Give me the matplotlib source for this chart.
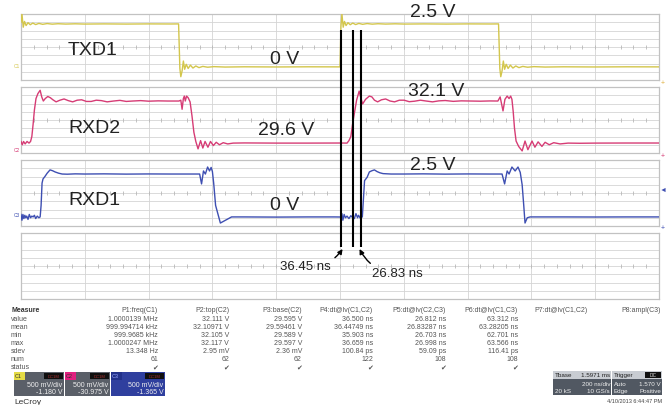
import matplotlib
matplotlib.use("Agg")
import matplotlib.pyplot as plt
from matplotlib.patches import Rectangle
import numpy as np

plt.rcParams['font.family'] = ['Liberation Sans', 'DejaVu Sans']

# traces: time in ns (200 ns/div), level in divisions (-4..4)
txd1_t = [0, 3, 7, 11, 16, 22, 29, 37, 46, 56, 68, 82, 98, 116, 140, 170, 200, 260, 330, 400, 470, 494,
          498, 501, 505, 509, 513, 518, 524, 531, 539, 548, 558, 570, 585, 605, 640, 700, 800, 900, 1000,
          1003, 1006, 1010, 1014, 1019, 1025, 1032, 1040, 1049, 1059, 1071, 1085, 1101, 1119, 1143, 1173,
          1203, 1263, 1333, 1403, 1473, 1497,
          1501, 1504, 1508, 1512, 1516, 1521, 1527, 1534, 1542, 1551, 1561, 1573, 1588, 1608, 1643, 1700,
          1800, 1900, 2000]
txd1_v = [3.0, 4.0, 2.4, 3.1, 2.6, 2.95, 2.7, 2.9, 2.72, 2.86, 2.75, 2.84, 2.77, 2.82, 2.78, 2.81, 2.78, 2.8,
          2.78, 2.8, 2.79, 2.8,
          -2.6, -3.6, -2.9, -1.7, -2.7, -2.1, -2.6, -2.2, -2.55, -2.3, -2.5, -2.35, -2.45, -2.38, -2.43, -2.4,
          -2.42, -2.4, -2.41,
          2.5, 4.0, 2.4, 3.1, 2.6, 2.95, 2.7, 2.9, 2.72, 2.86, 2.75, 2.84, 2.77, 2.82, 2.78, 2.81, 2.78, 2.8,
          2.78, 2.8, 2.79, 2.8,
          -2.6, -3.6, -2.9, -1.7, -2.7, -2.1, -2.6, -2.2, -2.55, -2.3, -2.5, -2.35, -2.45, -2.38, -2.43, -2.4,
          -2.42, -2.4, -2.41]

rxd2_t = [0, 4, 8, 13, 19, 25, 30, 34, 38, 42, 47, 53, 60, 65, 70, 76, 84, 92, 100, 110, 122, 135, 148, 162,
          176, 190, 205, 220, 236, 252, 270, 290, 310, 330, 350, 375, 400, 430, 460, 495, 501, 505, 509,
          512, 515, 519, 524, 530, 536, 542, 548, 555, 563, 570, 577, 586, 594, 603, 612, 622, 634, 648,
          665, 700, 800, 900, 1000,
          1022, 1028, 1034, 1039, 1045, 1052, 1060, 1066, 1071, 1080, 1092, 1100, 1108, 1118, 1130, 1143,
          1157, 1171, 1186, 1201, 1217, 1234, 1252, 1270, 1290, 1310, 1330, 1355, 1380, 1410, 1440, 1470,
          1495, 1502, 1511, 1517, 1524, 1530, 1535, 1539, 1543, 1547, 1552, 1560, 1571, 1580, 1589, 1602,
          1611, 1621, 1633, 1643, 1656, 1670, 1690, 1715, 1752, 1800, 1900, 2000]
rxd2_v = [-2.6, -3.0, -2.6, -2.9, -2.6, -2.8, -2.6, -2.0, -0.5, 1.2, 2.6, 3.2, 3.6, 2.8, 2.3, 2.6, 2.85, 2.7,
          2.45, 2.2, 2.4, 2.55, 2.35, 2.2, 2.4, 2.45, 2.25, 2.25, 2.4, 2.35, 2.2, 2.3, 2.38, 2.25, 2.3, 2.35,
          2.28, 2.32, 2.3, 2.3, 2.4, 1.3, 2.6, 2.9, 2.3, 2.9, 2.7, 2.2, 0.5, -1.5, -2.6, -3.5, -2.5, -3.4,
          -2.6, -3.3, -2.6, -3.1, -2.7, -3.0, -2.75, -2.9, -2.8, -2.78, -2.8, -2.8, -2.79,
          -2.8, -2.5, -2.0, -0.6, 0.8, 2.4, 3.5, 2.6, 1.95, 2.5, 2.9, 2.8, 2.4, 2.2, 2.45, 2.55, 2.3, 2.2,
          2.4, 2.4, 2.22, 2.28, 2.4, 2.3, 2.2, 2.32, 2.36, 2.26, 2.32, 2.3, 2.28, 2.31,
          2.3, 2.8, 1.1, 2.5, 2.9, 2.6, 2.9, 2.5, 1.0, -1.0, -2.55, -3.2, -3.75, -2.55, -3.6, -2.55, -3.3,
          -2.65, -3.2, -2.7, -3.0, -2.75, -2.9, -2.8, -2.82, -2.8, -2.79, -2.79]

rxd1_t = [0, 3, 6, 9, 12, 15, 18, 22, 26, 30, 34, 38, 42, 46, 51, 56, 60, 63, 66, 69, 75, 82, 91, 99, 107, 118,
          129, 145, 170, 200, 260, 330, 400, 470, 520, 560, 566, 572, 578, 585, 591, 596, 600, 604, 610, 625,
          660, 700, 800, 900, 980, 1003, 1006, 1009, 1013, 1017, 1022, 1028, 1034, 1040, 1045, 1050, 1055,
          1058, 1062, 1065, 1068, 1070, 1077, 1085, 1092, 1100, 1108, 1116, 1125, 1135, 1160, 1200, 1260,
          1330, 1400, 1470, 1500, 1508, 1516, 1524, 1530, 1539, 1549, 1558, 1565, 1571, 1576, 1580, 1587,
          1596, 1620, 1700, 1800, 1900, 2000]
rxd1_v = [-2.6, -3.3, -2.6, -3.1, -2.7, -3.0, -2.8, -3.2, -2.6, -3.0, -2.8, -2.9, -2.7, -3.1, -2.8, -3.0,
          -2.9, -1.5, 1.2, 1.7, 2.0, 2.4, 2.8, 2.7, 2.55, 2.4, 2.3, 2.28, 2.32, 2.3, 2.32, 2.29, 2.31, 2.3,
          2.3, 2.3, 1.1, 2.67, 2.3, 3.15, 2.67, 3.1, 2.6, 1.2, -1.5, -3.64, -2.9, -2.9, -2.92, -2.9, -2.9,
          -2.91, -2.5, -3.3, -2.6, -3.0, -2.8, -3.1, -2.75, -3.0, -3.1, -2.5, -3.0, -2.7, -2.95, -3.1,
          -2.9, -2.9, 1.5, 1.9, 2.55, 2.7, 2.8, 2.6, 2.45, 2.35, 2.3, 2.3, 2.32, 2.29, 2.31, 2.3, 2.3,
          2.3, 1.1, 2.67, 2.3, 3.15, 2.67, 3.15, 2.5, 1.0, -1.5, -3.64, -3.0, -2.9, -2.9, -2.9, -2.91,
          -2.9, -2.9]

trace_names = ['TXD1', 'RXD2', 'RXD1']
trace_colors = ['#d3c64c', '#d63c75', '#3e4fb2']
low_labels = ['0 V', '29.6 V', '0 V']
high_labels = ['2.5 V', '32.1 V', '2.5 V']
# label positions (ns, div)
name_pos = [(147, -0.25), (147, -0.85), (147, -0.75)]
low_pos = [(780, -1.45), (743, -1.1), (780, -1.35)]
high_pos = [(1220, 4.25), (1213, 3.55), (1220, 3.5)]

cursor_t = [1003.0, 1039.45, 1066.28]
cursor_labels = ['36.45 ns', '26.83 ns']

meas_rows = ['value', 'mean', 'min', 'max', 'sdev', 'num', 'status']
meas_heads = ['P1:freq(C1)', 'P2:top(C2)', 'P3:base(C2)', 'P4:dt@lv(C1,C2)', 'P5:dt@lv(C2,C3)',
              'P6:dt@lv(C1,C3)', 'P7:dt@lv(C1,C2)', 'P8:ampl(C3)']
chk = '\u2714'
meas_vals = [
    ['1.0000139 MHz', '999.994714 kHz', '999.9685 kHz', '1.0000247 MHz', '13.348 Hz', '61', chk],
    ['32.111 V', '32.10971 V', '32.105 V', '32.117 V', '2.95 mV', '62', chk],
    ['29.595 V', '29.59461 V', '29.589 V', '29.597 V', '2.36 mV', '62', chk],
    ['36.500 ns', '36.44749 ns', '35.903 ns', '36.659 ns', '100.84 ps', '122', chk],
    ['26.812 ns', '26.83287 ns', '26.703 ns', '26.998 ns', '59.09 ps', '108', chk],
    ['63.312 ns', '63.28205 ns', '62.701 ns', '63.566 ns', '116.41 ps', '108', chk],
    [], [],
]
ch_tags = ['C1', 'C2', 'C3']
ch_scale = ['500 mV/div', '500 mV/div', '500 mV/div']
ch_offset = ['-1.180 V', '-30.975 V', '-1.365 V']

W, H = 670, 406
fig = plt.figure(figsize=(6.7, 4.06), dpi=100)
fig.patch.set_facecolor('white')

series = [(txd1_t, txd1_v), (rxd2_t, rxd2_v), (rxd1_t, rxd1_v)]
panels = []
for i in range(4):
    top = 15 + 73 * i
    ax = fig.add_axes([21 / W, 1 - (top + 66) / H, 638 / W, 66 / H])
    ax.set_xlim(0, 2000)
    ax.set_ylim(-4, 4)
    ax.set_xticks([])
    ax.set_yticks([])
    for s in ax.spines.values():
        s.set_color('#c2c2c2')
        s.set_linewidth(0.9)
    for d in range(1, 10):
        ax.axvline(d * 200, color='#d4d4d4', lw=0.6, zorder=1)
    for k in range(-3, 4):
        ax.axhline(k, color='#d4d4d4', lw=0.6, zorder=1)
    ax.vlines(np.arange(40, 2000, 40), -0.25, 0.25, color='#b8b8b8', lw=0.6, zorder=1)
    if i < 3:
        t, v = series[i]
        ax.plot(t, v, color=trace_colors[i], lw=1.0, zorder=3)
        kw = dict(fontsize=14, color='#222222', va='center', zorder=5, clip_on=False)
        ax.text(*name_pos[i], trace_names[i], ha='left', **kw)
        ax.text(*low_pos[i], low_labels[i], ha='left', **kw)
        ax.text(*high_pos[i], high_labels[i], ha='left', **kw)
    panels.append(ax)

# cursors, same time axis but pixel rows
cx = fig.add_axes([21 / W, 0, 638 / W, 1])
cx.set_xlim(0, 2000)
cx.set_ylim(H, 0)
cx.axis('off')
cx.patch.set_alpha(0)
cx.vlines(cursor_t, 31, 248, color='black', lw=1.5, zorder=6)
cx.annotate(cursor_labels[0], xy=(cursor_t[0] + 5, 250), xytext=(972, 267), fontsize=9.5,
            ha='right', va='center', color='#222222',
            arrowprops=dict(arrowstyle='-|>', color='black', lw=1.0, mutation_scale=7,
                            connectionstyle='arc3,rad=0.3', shrinkA=1, shrinkB=0))
cx.annotate(cursor_labels[1], xy=(cursor_t[2] - 5, 250), xytext=(1100, 274), fontsize=9.5,
            ha='left', va='center', color='#222222',
            arrowprops=dict(arrowstyle='-|>', color='black', lw=1.0, mutation_scale=7,
                            connectionstyle='arc3,rad=-0.3', shrinkA=1, shrinkB=0))

# overlay in pixel units for table and info boxes
ov = fig.add_axes([0, 0, 1, 1])
ov.set_xlim(0, W)
ov.set_ylim(H, 0)
ov.axis('off')
ov.patch.set_alpha(0)

# channel markers at the edges
ov.text(17, 66, 'C1', fontsize=3.5, color=trace_colors[0], ha='center', va='center')
ov.text(17, 151, 'C2', fontsize=3.5, color=trace_colors[1], ha='center', va='center')
ov.text(17, 216, 'C3', fontsize=3.5, color=trace_colors[2], ha='center', va='center')
ov.text(663, 83, '+', fontsize=5, color='#e0b040', ha='center', va='center')
ov.text(663, 157, '+', fontsize=5, color=trace_colors[1], ha='center', va='center')
ov.text(663, 190, '\u25c4', fontsize=5, color=trace_colors[2], ha='center', va='center')
ov.text(663, 229, '+', fontsize=5, color=trace_colors[2], ha='center', va='center')

# measurement table
col_x = [158, 229, 302, 373, 446, 518, 588, 661]
row_y0, row_dy = 311, 8.1
tc = '#555555'
ov.text(11, row_y0, 'Measure', fontsize=5, fontweight='bold', color='#333333', va='center')
for r, name in enumerate(meas_rows):
    ov.text(11, row_y0 + row_dy * (r + 1), name, fontsize=5, color=tc, va='center')
for c, head in enumerate(meas_heads):
    ov.text(col_x[c], row_y0, head, fontsize=5, color=tc, va='center', ha='right')
    for r, val in enumerate(meas_vals[c]):
        ov.text(col_x[c], row_y0 + row_dy * (r + 1), val, fontsize=5, color=tc, va='center', ha='right')

# channel boxes
box_x = [(14, 64), (65, 110), (111, 165)]
box_bg = ['#5a5f68', '#5a5f68', '#2f3f9e']
tag_bg = ['#e5dc46', '#e0207f', '#22318a']
tag_fg = ['#333333', '#333333', '#9aa8ff']
by0, by1 = 373, 397
for i, (x0, x1) in enumerate(box_x):
    ov.add_patch(Rectangle((x0, by0), x1 - x0, by1 - by0, color=box_bg[i], lw=0))
    ov.add_patch(Rectangle((x0, by0), 11, 8, color=tag_bg[i], lw=0))
    ov.text(x0 + 1, by0 + 4, ch_tags[i], fontsize=4, color=tag_fg[i], va='center', ha='left')
    ov.add_patch(Rectangle((x1 - 20, by0 + 1), 19, 6, color='#101010', lw=0))
    ov.text(x1 - 10.5, by0 + 4, 'DC1M', fontsize=3, color='#aa3030', va='center', ha='center')
    ov.text(x1 - 1.5, by0 + 13, ch_scale[i], fontsize=5, color='#f0f0f0', va='center', ha='right')
    ov.text(x1 - 1.5, by0 + 20, ch_offset[i], fontsize=5, color='#f0f0f0', va='center', ha='right')
ov.text(14, 403, 'LeCroy', fontsize=6, color='#333333', va='center', ha='left')

# timebase and trigger boxes
ov.add_patch(Rectangle((553, 372), 58, 24, color='#515862', lw=0))
ov.add_patch(Rectangle((553, 372), 58, 8, color='#c8ccd2', lw=0))
ov.text(555, 376, 'Tbase', fontsize=4.5, color='#222222', va='center', ha='left')
ov.text(610, 376, '1.5971 ms', fontsize=4.5, color='#222222', va='center', ha='right')
ov.text(610, 385, '200 ns/div', fontsize=4.5, color='#f0f0f0', va='center', ha='right')
ov.text(555, 392, '20 kS', fontsize=4.5, color='#f0f0f0', va='center', ha='left')
ov.text(610, 392, '10 GS/s', fontsize=4.5, color='#f0f0f0', va='center', ha='right')
ov.add_patch(Rectangle((612, 372), 50, 24, color='#515862', lw=0))
ov.add_patch(Rectangle((612, 372), 50, 8, color='#c8ccd2', lw=0))
ov.text(614, 376, 'Trigger', fontsize=4.5, color='#222222', va='center', ha='left')
ov.add_patch(Rectangle((645, 373), 16, 6, color='#101010', lw=0))
ov.text(653, 376, 'DC', fontsize=3.5, color='#dddddd', va='center', ha='center')
ov.text(614, 385, 'Auto', fontsize=4.5, color='#f0f0f0', va='center', ha='left')
ov.text(661, 385, '1.570 V', fontsize=4.5, color='#f0f0f0', va='center', ha='right')
ov.text(614, 392, 'Edge', fontsize=4.5, color='#f0f0f0', va='center', ha='left')
ov.text(661, 392, 'Positive', fontsize=4.5, color='#f0f0f0', va='center', ha='right')
ov.text(662, 402, '4/10/2013 6:44:47 PM', fontsize=4, color='#444444', va='center', ha='right')

fig.savefig('out.png', dpi=100)
